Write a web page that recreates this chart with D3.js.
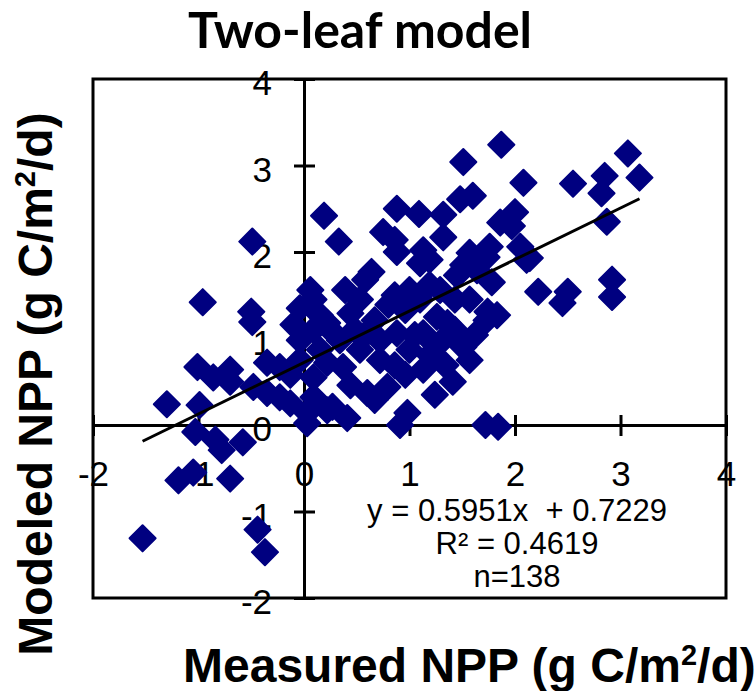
<!DOCTYPE html>
<html>
<head>
<meta charset="utf-8">
<script src="https://cdn.jsdelivr.net/npm/d3@7"></script>
<style>
  body { margin: 0; background: #fff; }
  text { font-family: "Liberation Sans", Arial, sans-serif; }
</style>
</head>
<body>
<div id="chart"></div>
<script>
// measured NPP (x) and modeled NPP (y), g C/m2/d
var measured = [
  1.87, 1.51, 3.07, 3.18, 2.85, 2.82, 2.55, 2.08, 2.87, 0.19,
  0.33, 0.88, 1.09, 1.32, 1.48, 1.60, 0.75, 0.86, 1.32, 1.86,
  2.00, 1.97, -0.49, 2.05, 1.76, 1.57, 1.13, 0.88, 2.14, 0.64,
  1.10, 1.19, 1.51, 1.45, 1.73, 1.64, 2.11, 1.78, 2.22, 2.50,
  2.45, 2.92, 2.92, 1.00, 0.53, 0.44, 0.80, 1.74, 1.83, 1.73,
  1.26, 1.36, 0.56, 0.88, 1.13, 1.29, 1.51, 1.57, 0.37, 0.72,
  0.79, 0.60, 1.13, 1.41, 0.98, 0.91, 0.41, 0.27, 1.72, 1.84,
  -0.96, -0.50, -0.49, 0.09, -0.04, 0.15, -0.10, 0.09, 0.22, -0.04,
  -1.01, -0.86, -0.70, -0.48, -0.35, -0.23, -0.35, -0.23, -0.13, 0.09,
  0.22, 0.09, 0.03, 0.22, -1.30, -0.99, -1.03, -0.84, -0.78, -0.58,
  -1.19, -1.05, -0.70, -1.53, -0.44, -0.37, 0.03, 0.48, 0.67, 0.96,
  1.10, 1.19, 1.00, 0.86, 1.19, 1.34, 0.53, 0.34, 0.44, 0.67,
  1.05, 1.43, 1.57, 0.25, 0.15, -0.04, 0.06, 1.29, 1.43, 0.72,
  0.86, 1.62, 0.39, 0.58, -0.70, -0.13, 0.96, 1.24
];
var modeled = [
  3.24, 3.04, 3.14, 2.86, 2.88, 2.68, 2.79, 2.80, 2.35, 2.42,
  2.12, 2.50, 2.44, 2.43, 2.61, 2.65, 2.23, 2.14, 2.17, 2.34,
  2.46, 2.30, 2.12, 2.06, 2.06, 1.99, 2.02, 2.00, 1.93, 1.77,
  1.87, 1.91, 1.85, 1.73, 1.94, 1.79, 1.91, 1.65, 1.54, 1.54,
  1.41, 1.68, 1.48, 1.56, 1.45, 1.29, 1.39, 1.31, 1.27, 1.21,
  1.25, 1.18, 1.02, 1.06, 1.06, 0.95, 0.90, 0.75, 0.67, 0.75,
  0.44, 0.37, 0.64, 0.50, 0.14, 0.00, 0.08, 0.21, 0.00, -0.02,
  1.42, 1.31, 1.19, 1.45, 1.35, 1.27, 1.16, 1.10, 1.18, 0.98,
  0.67, 0.55, 0.50, 0.44, 0.72, 0.67, 0.37, 0.32, 0.25, 0.55,
  0.72, 0.32, 0.14, 0.17, 0.24, 0.23, -0.08, -0.17, -0.29, -0.20,
  -0.64, -0.55, -0.62, -1.31, -1.21, -1.47, 0.02, 1.10, 1.21, 1.33,
  1.45, 1.62, 0.87, 0.69, 0.81, 0.69, 0.87, 0.98, 0.46, 0.29,
  1.04, 1.45, 1.45, 1.10, 0.87, 0.75, 1.56, 1.56, 1.10, 0.98,
  1.50, 1.04, 1.56, 1.68, 0.64, 0.58, 0.58, 0.35
];
var tickValues = [-2, -1, 0, 1, 2, 3, 4];
var slope = 0.5951, intercept = 0.7229;
var statLines = ["y = 0.5951x  + 0.7229", "R\u00b2 = 0.4619", "n=138"];

var W = 755, H = 691;
var svg = d3.select("#chart").append("svg")
    .attr("width", W)
    .attr("height", H);

svg.append("rect").attr("width", W).attr("height", H).attr("fill", "#fff");

var x = d3.scaleLinear().domain([-2, 4]).range([93, 726]);
var y = d3.scaleLinear().domain([-2, 4]).range([598, 79]);

// title
svg.append("text")
    .attr("x", 360)
    .attr("y", 48)
    .attr("text-anchor", "middle")
    .style("font-family", "Lato, 'Open Sans', sans-serif")
    .style("font-weight", "bold")
    .style("font-size", "50px")
    .text("Two-leaf model");

// plot frame
svg.append("rect")
    .attr("x", x(-2))
    .attr("y", y(4))
    .attr("width", x(4) - x(-2))
    .attr("height", y(-2) - y(4))
    .attr("fill", "none")
    .attr("stroke", "#000")
    .attr("stroke-width", 3);

// axes crossing at origin
var xAxis = svg.append("g")
    .attr("transform", "translate(0," + y(0) + ")")
    .call(d3.axisBottom(x).tickValues(tickValues).tickSize(0).tickPadding(0));
xAxis.select(".domain").attr("stroke-width", 3);
xAxis.selectAll(".tick line").attr("y1", -10).attr("y2", 11).attr("stroke-width", 3);
xAxis.selectAll(".tick text")
    .attr("y", 61).attr("dy", null)
    .attr("font-size", 35)
    .style("font-family", "'Liberation Sans', Arial, sans-serif")
    .text(function(d) { return d < 0 ? "-" + Math.abs(d) : d; });

var yAxis = svg.append("g")
    .attr("transform", "translate(" + x(0) + ",0)")
    .call(d3.axisLeft(y).tickValues(tickValues).tickSize(0).tickPadding(0));
yAxis.select(".domain").attr("stroke-width", 3);
yAxis.selectAll(".tick line").attr("x1", -10).attr("x2", 11).attr("stroke-width", 3);
yAxis.selectAll(".tick text")
    .attr("x", -32).attr("dy", "0.45em")
    .attr("font-size", 35)
    .style("font-family", "'Liberation Sans', Arial, sans-serif")
    .text(function(d) { return d < 0 ? "-" + Math.abs(d) : d; });

// points
var pts = measured.map(function(d, i) { return [d, modeled[i]]; });
var diamond = d3.symbol().type(d3.symbolSquare).size(340);
svg.append("g").selectAll("path")
    .data(pts)
    .enter().append("path")
    .attr("d", diamond)
    .attr("transform", function(d) { return "translate(" + x(d[0]) + "," + y(d[1]) + ") rotate(45)"; })
    .attr("fill", "#000080")
    .attr("stroke", "#000080")
    .attr("stroke-width", 2)
    .attr("stroke-linejoin", "round");

// trend line
var ext = d3.extent(measured);
svg.append("line")
    .attr("x1", x(ext[0])).attr("y1", y(slope * ext[0] + intercept))
    .attr("x2", x(ext[1])).attr("y2", y(slope * ext[1] + intercept))
    .attr("stroke", "#000")
    .attr("stroke-width", 3);

// regression stats
svg.append("g").selectAll("text")
    .data(statLines)
    .enter().append("text")
    .attr("x", 517)
    .attr("y", function(d, i) { return 521 + i * 33; })
    .attr("text-anchor", "middle")
    .attr("font-size", 31)
    .style("white-space", "pre")
    .text(function(d) { return d; });

// axis titles
var xt = svg.append("text")
    .attr("x", 183)
    .attr("y", 682)
    .style("font-weight", "bold")
    .style("font-size", "48px");
xt.append("tspan").text("Measured NPP (g C/m");
xt.append("tspan").attr("dy", -17).style("font-size", "29px").text("2");
xt.append("tspan").attr("dy", 17).text("/d)");

var yt = svg.append("text")
    .attr("transform", "translate(52,384) rotate(-90)")
    .attr("text-anchor", "middle")
    .style("font-weight", "bold")
    .style("font-size", "48px");
yt.append("tspan").text("Modeled NPP (g C/m");
yt.append("tspan").attr("dy", -17).style("font-size", "29px").text("2");
yt.append("tspan").attr("dy", 17).text("/d)");
</script>
</body>
</html>
